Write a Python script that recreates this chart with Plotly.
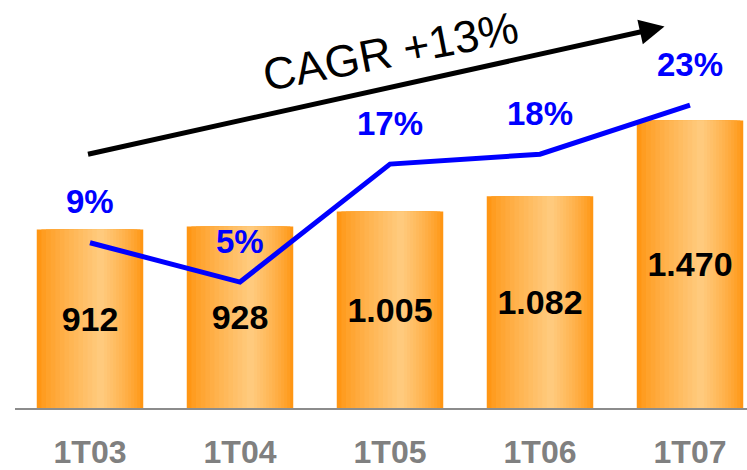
import plotly.graph_objects as go

categories = ['1T03', '1T04', '1T05', '1T06', '1T07']
revenue = [912, 928, 1005, 1082, 1470]
margin_pct = [9, 5, 17, 18, 23]
pct_labels = ['9%', '5%', '17%', '18%', '23%']
cagr_label = 'CAGR +13%'

FONT = 'Liberation Sans, Arial, sans-serif'
EDGE = (255, 150, 20)
CENTER = (255, 202, 125)

fig = go.Figure()

# bars with a horizontal gradient, faked by stacking narrower lighter bars
full_w = 0.71
n_layers = 14
for i in range(n_layers):
    t = i / (n_layers - 1)
    w = full_w * (1 - 0.93 * t)
    mix = t ** 0.8
    col = tuple(round(EDGE[k] + (CENTER[k] - EDGE[k]) * mix) for k in range(3))
    shift = 0.07 * t
    fig.add_trace(go.Bar(
        x=categories, y=revenue,
        width=w, offset=shift - w / 2,
        marker=dict(color='rgb(%d,%d,%d)' % col, line=dict(width=0)),
        hoverinfo='skip', showlegend=False
    ))

# transparent top bar carrying the value labels
fig.add_trace(go.Bar(
    x=categories, y=revenue,
    width=full_w, offset=-full_w / 2,
    marker=dict(color='rgba(0,0,0,0)', line=dict(width=0)),
    texttemplate='%{y:,}', textposition='inside', insidetextanchor='middle',
    textfont=dict(family=FONT, size=34, color='black', weight='bold'),
    showlegend=False
))

fig.add_trace(go.Scatter(
    x=categories, y=margin_pct, yaxis='y2',
    mode='lines', line=dict(color='#0000FF', width=5),
    showlegend=False
))

for cat, val, lab in zip(categories, margin_pct, pct_labels):
    fig.add_annotation(
        x=cat, y=val, yref='y2', text=lab, showarrow=False, yshift=41,
        font=dict(family=FONT, size=33, color='#0000FF', weight='bold')
    )

# CAGR arrow and label
fig.add_annotation(
    x=3.83, y=1950, ax=-578, ay=128, text='', showarrow=True,
    arrowhead=2, arrowsize=1, arrowwidth=5, arrowcolor='black'
)
fig.add_annotation(
    x=2.0, y=1825, text=cagr_label, showarrow=False, textangle=-11,
    font=dict(family=FONT, size=45, color='black')
)

fig.update_layout(
    width=747, height=470,
    barmode='overlay',
    separators=',.',
    plot_bgcolor='white', paper_bgcolor='white',
    margin=dict(l=15, r=0, t=0, b=62),
    xaxis=dict(
        range=[-0.5, 4.38], showgrid=False, zeroline=False, automargin=False,
        showline=True, linecolor='#8c8c8c', linewidth=2,
        ticks='outside', ticklen=15, tickcolor='rgba(0,0,0,0)',
        tickfont=dict(family=FONT, size=32, color='#808080', weight='bold')
    ),
    yaxis=dict(range=[0, 2086], visible=False),
    yaxis2=dict(range=[-7.81, 33.69], overlaying='y', visible=False),
)

fig.write_html('out.html', config={'displayModeBar': False},
               post_script="document.body.style.margin='0';")
